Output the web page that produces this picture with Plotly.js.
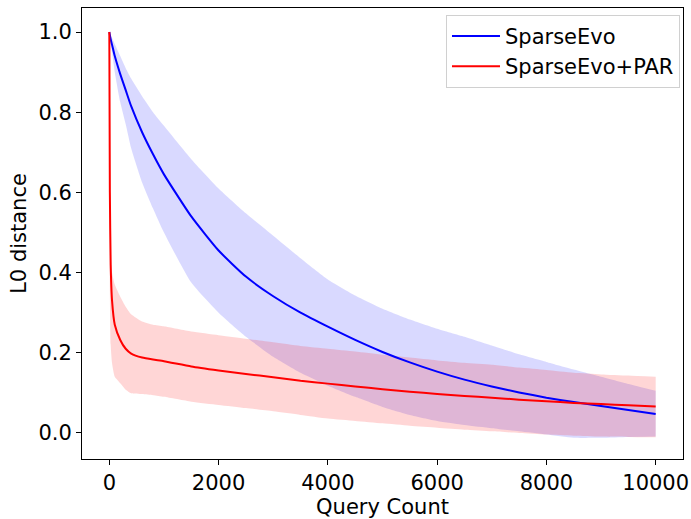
<!DOCTYPE html>
<html>
<head>
<meta charset="utf-8">
<script src="https://cdn.plot.ly/plotly-3.0.1.min.js"></script>
<style>
  html, body { margin: 0; padding: 0; background: #ffffff; }
  #chart { width: 691px; height: 519px; }
</style>
</head>
<body>
<div id="chart"></div>
<script>
// Query budget sampled along the attack
const queries = [0, 10, 25, 50, 100, 200, 300, 400, 600, 800, 1000, 1500, 2000, 2500, 3000,
  3500, 4000, 4500, 5000, 5500, 6000, 6500, 7000, 7500, 8000, 8500, 9000, 9500, 10000];

// SparseEvo: mean L0 distance and mean ± std band
const sparseEvoMean = [1.0, 0.993, 0.982, 0.968, 0.94, 0.895, 0.855, 0.815, 0.75, 0.695, 0.645,
  0.54, 0.455, 0.39, 0.341, 0.30, 0.265, 0.232, 0.202, 0.176, 0.153, 0.133, 0.116, 0.101,
  0.088, 0.077, 0.067, 0.057, 0.047];
const sparseEvoUpper = [1.0, 0.997, 0.99, 0.985, 0.97, 0.94, 0.91, 0.884, 0.84, 0.80, 0.766,
  0.683, 0.61, 0.548, 0.492, 0.436, 0.383, 0.343, 0.31, 0.283, 0.26, 0.24, 0.218, 0.196,
  0.177, 0.158, 0.14, 0.122, 0.105];
const sparseEvoLower = [1.0, 0.99, 0.975, 0.95, 0.9, 0.825, 0.77, 0.71, 0.625, 0.56, 0.50,
  0.375, 0.30, 0.24, 0.19, 0.15, 0.118, 0.09, 0.065, 0.045, 0.03, 0.02, 0.012, 0.004,
  -0.004, -0.012, -0.012, -0.01, -0.009];

// SparseEvo+PAR: mean L0 distance and mean ± std band
const parMean = [1.0, 0.6, 0.42, 0.33, 0.27, 0.232, 0.21, 0.198, 0.188, 0.183, 0.179,
  0.166, 0.156, 0.147, 0.139, 0.130, 0.123, 0.116, 0.109, 0.103, 0.097, 0.092, 0.088, 0.083,
  0.079, 0.075, 0.072, 0.069, 0.066];
const parUpper = [1.0, 0.55, 0.45, 0.40, 0.37, 0.34, 0.315, 0.296, 0.278, 0.27, 0.266,
  0.253, 0.244, 0.235, 0.226, 0.217, 0.21, 0.203, 0.195, 0.188, 0.181, 0.175, 0.17, 0.163,
  0.157, 0.150, 0.146, 0.143, 0.14];
const parLower = [1.0, 0.35, 0.22, 0.174, 0.14, 0.124, 0.108, 0.099, 0.097, 0.094, 0.09,
  0.078, 0.07, 0.062, 0.054, 0.045, 0.036, 0.03, 0.024, 0.018, 0.013, 0.008, 0.004, 0.0,
  -0.004, -0.007, -0.009, -0.01, -0.011];

const xTicks = [0, 2000, 4000, 6000, 8000, 10000];
const yTicks = [0.0, 0.2, 0.4, 0.6, 0.8, 1.0];

const FONT = 'DejaVu Sans, sans-serif';
const FS = 21;

function band(lower, upper, fillcolor) {
  return [
    { x: queries, y: lower, mode: 'lines', line: { width: 0, shape: 'spline', smoothing: 0.5 },
      showlegend: false, hoverinfo: 'skip', type: 'scatter' },
    { x: queries, y: upper, mode: 'lines', line: { width: 0, shape: 'spline', smoothing: 0.5 },
      fill: 'tonexty', fillcolor: fillcolor, showlegend: false, hoverinfo: 'skip', type: 'scatter' }
  ];
}

const traces = [
  ...band(sparseEvoLower, sparseEvoUpper, 'rgba(0,0,255,0.15)'),
  ...band(parLower, parUpper, 'rgba(255,0,0,0.16)'),
  { x: queries, y: sparseEvoMean, mode: 'lines', name: 'SparseEvo',
    line: { color: '#0000ff', width: 2, shape: 'spline', smoothing: 0.5 }, type: 'scatter' },
  { x: queries, y: parMean, mode: 'lines', name: 'SparseEvo+PAR',
    line: { color: '#ff0000', width: 2, shape: 'spline', smoothing: 0.5 }, type: 'scatter' }
];

const axisCommon = {
  showline: true, mirror: true, linecolor: '#000000', linewidth: 1,
  ticks: 'outside', ticklen: 5, tickwidth: 1, tickcolor: '#000000',
  showgrid: false, zeroline: false, automargin: false,
  tickfont: { family: FONT, size: FS, color: '#000000' }
};

const layout = {
  width: 691, height: 519,
  margin: { l: 82, r: 8, t: 8, b: 60 },
  paper_bgcolor: '#ffffff', plot_bgcolor: '#ffffff',
  font: { family: FONT, size: FS, color: '#000000' },
  xaxis: Object.assign({}, axisCommon, {
    range: [-500, 10500], tickvals: xTicks, ticktext: xTicks.map(String),
    title: { text: 'Query Count', font: { family: FONT, size: FS }, standoff: 2 }
  }),
  yaxis: Object.assign({}, axisCommon, {
    range: [-0.065, 1.06], tickvals: yTicks, ticktext: yTicks.map(v => v.toFixed(1)),
    title: { text: 'L0 distance', font: { family: FONT, size: FS }, standoff: 6 }
  }),
  legend: {
    x: 0.995, y: 0.985, xanchor: 'right', yanchor: 'top', traceorder: 'normal',
    bgcolor: 'rgba(255,255,255,0.85)', bordercolor: '#d0d0d0', borderwidth: 1,
    font: { family: FONT, size: FS, color: '#000000' },
    itemwidth: 48, entrywidth: 195, tracegroupgap: 0
  },
  showlegend: true
};

Plotly.newPlot('chart', traces, layout, { displayModeBar: false, staticPlot: true });
</script>
</body>
</html>
